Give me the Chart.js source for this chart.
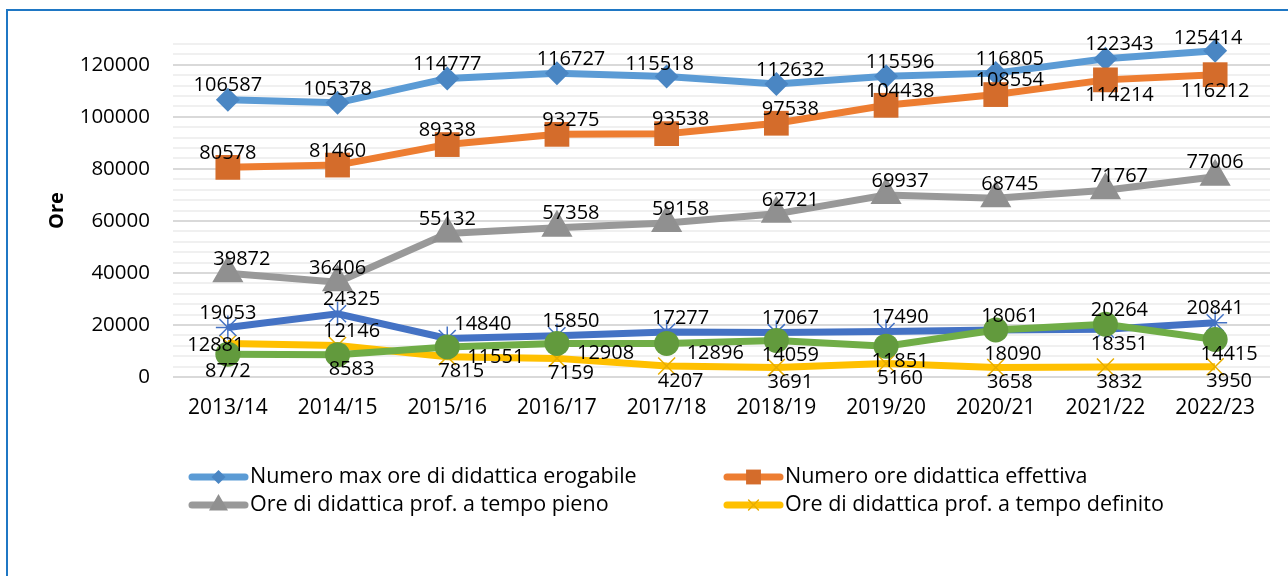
<!DOCTYPE html>
<html><head><meta charset="utf-8">
<script src="https://cdn.jsdelivr.net/npm/chart.js@4.4.0/dist/chart.umd.min.js"></script>
<style>html,body{margin:0;padding:0;background:#fff;}#wrap{width:1288px;height:576px;position:relative;}</style>
</head><body><div id="wrap"><canvas id="c" width="1288" height="576"></canvas></div>
<script>
const categories = ['2013/14','2014/15','2015/16','2016/17','2017/18','2018/19','2019/20','2020/21','2021/22','2022/23'];
const maxOre = [106587,105378,114777,116727,115518,112632,115596,116805,122343,125414];
const oreEffettive = [80578,81460,89338,93275,93538,97538,104438,108554,114214,116212];
const tempoPieno = [39872,36406,55132,57358,59158,62721,69937,68745,71767,77006];
const tempoDefinito = [12881,12146,7815,7159,4207,3691,5160,3658,3832,3950];
const serieBlu = [19053,24325,14840,15850,17277,17067,17490,18061,18351,20841];
const serieVerde = [8772,8583,11551,12908,12896,14059,11851,18090,20264,14415];
const yTickValues = [0,20000,40000,60000,80000,100000,120000];
const legendLabels = ['Numero max ore di didattica erogabile','Numero ore didattica effettiva','Ore di didattica prof. a tempo pieno','Ore di didattica prof. a tempo definito'];
const axisTitle = 'Ore';

// label placement codes per series
const placeMax = ['a','a','a','ar','al','ar','ar','ar','ar','al'];
const placeEff = ['a','a','a','ar','ar','ar','ar','ar','br','b'];
const placePieno = ['ar','a','a','ar','ar','ar','ar','ar','ar','a'];
const placeDef = ['l','ar','br','br','br','br','br','br','br','br'];
const placeBlu = ['a','ar','ra','ar','ar','ar','ar','ar','br','a'];
const placeVerde = ['b','br','r','r','r','br','br','bb','ar','br'];

const OFFS = {a:[0,-14,'center'], ar:[14,-14,'center'], al:[-7,-12,'center'], b:[0,17,'center'], br:[14,15,'center'],
  bb:[17,24,'center'], r:[20,10,'left'], ra:[7,-14,'left'], l:[-12,2,'center']};

const FONT = '"Open Sans", sans-serif';

const series = [
  {label: legendLabels[0], data: maxOre, line:'#5B9BD5', mk:'#4A86C3', style:'rectRot', r:12, bw:0, place: placeMax},
  {label: legendLabels[1], data: oreEffettive, line:'#ED7D31', mk:'#D46C2B', style:'rect', r:17.5, bw:0, place: placeEff},
  {label: legendLabels[2], data: tempoPieno, line:'#999999', mk:'#909090', style:'triangle', r:16, bw:2, place: placePieno},
  {label: legendLabels[3], data: tempoDefinito, line:'#FFC000', mk:'#E8AE00', style:'crossRot', r:12, bw:1.5, place: placeDef},
  {label: '', data: serieBlu, line:'#4472C4', mk:'#4472C4', style:'star', r:12, bw:1.5, place: placeBlu},
  {label: '', data: serieVerde, line:'#70AD47', mk:'#629A3D', style:'circle', r:12.5, bw:0, place: placeVerde}
];

const datasets = series.map((s, i) => ({
  label: s.label, data: s.data, borderColor: s.line, borderWidth: 7, backgroundColor: s.line,
  pointStyle: s.style, pointRadius: s.r, pointBackgroundColor: s.mk, pointBorderColor: s.mk,
  pointBorderWidth: s.bw, tension: 0, order: series.length - i, clip: false
}));

const frame = {
  id: 'frame',
  beforeDraw(chart) {
    const ctx = chart.ctx;
    ctx.save();
    ctx.fillStyle = '#fff'; ctx.fillRect(0,0,chart.width,chart.height);
    ctx.strokeStyle = '#1F77C4'; ctx.lineWidth = 2;
    ctx.strokeRect(7, 10, 1400, 700);
    ctx.restore();
  }
};

const labelsPlugin = {
  id: 'vlabels',
  afterDatasetsDraw(chart) {
    const ctx = chart.ctx;
    ctx.save();
    ctx.font = '20px ' + FONT;
    ctx.fillStyle = '#000';
    ctx.textBaseline = 'middle';
    series.forEach((s, i) => {
      const meta = chart.getDatasetMeta(i);
      meta.data.forEach((pt, j) => {
        const o = OFFS[s.place[j]];
        ctx.textAlign = o[2];
        ctx.fillText(String(s.data[j]), pt.x + o[0], pt.y + o[1]);
      });
    });
    ctx.restore();
  }
};

const legendPlugin = {
  id: 'clegend',
  afterDraw(chart) {
    const ctx = chart.ctx;
    const pos = [[189,477],[724,477],[189,505],[724,505]];
    const mr = [7,10.5,9,7];
    ctx.save();
    for (let i = 0; i < 4; i++) {
      const s = series[i];
      const [x, y] = pos[i];
      ctx.strokeStyle = s.line; ctx.lineWidth = 7; ctx.lineCap = 'round';
      ctx.beginPath(); ctx.moveTo(x + 3, y); ctx.lineTo(x + 56, y); ctx.stroke();
      ctx.fillStyle = s.mk; ctx.strokeStyle = s.mk; ctx.lineWidth = s.bw || 1;
      Chart.helpers.drawPoint(ctx, {pointStyle: s.style, radius: mr[i], rotation: 0, borderWidth: s.bw}, x + 29.5, y);
      ctx.fillStyle = '#000'; ctx.font = '21.5px ' + FONT; ctx.textAlign = 'left'; ctx.textBaseline = 'middle';
      ctx.fillText(s.label, x + 61, y);
    }
    ctx.restore();
  }
};

new Chart(document.getElementById('c'), {
  type: 'line',
  data: { labels: categories, datasets },
  plugins: [frame, labelsPlugin, legendPlugin],
  options: {
    responsive: false, animation: false, devicePixelRatio: 1,
    layout: { padding: { top: 44, right: 16, left: 0, bottom: 0 } },
    plugins: { legend: { display: false }, tooltip: { enabled: false } },
    scales: {
      x: {
        offset: true,
        grid: { display: false, drawTicks: false, offset: true },
        border: { display: false },
        ticks: { font: { family: FONT, size: 21 }, color: '#000', padding: 18, maxRotation: 0 },
        afterFit(scale) { scale.height = 199; }
      },
      y: {
        min: 0, max: 128000,
        border: { display: false },
        grid: {
          drawTicks: false, lineWidth: 2,
          color: (c) => (yTickValues.includes(c.tick.value) ? '#D9D9D9' : '#F0F0F0')
        },
        ticks: {
          stepSize: 4000, autoSkip: false, padding: 23, color: '#000',
          font: { family: FONT, size: 20.5 },
          callback: (v) => (yTickValues.includes(v) ? String(v) : '')
        },
        title: { display: true, text: axisTitle, color: '#000', font: { family: FONT, size: 20, weight: 'bold' }, padding: { top: 45, bottom: 0 } },
        afterFit(scale) { scale.width = 173; }
      }
    }
  }
});
</script></body></html>
